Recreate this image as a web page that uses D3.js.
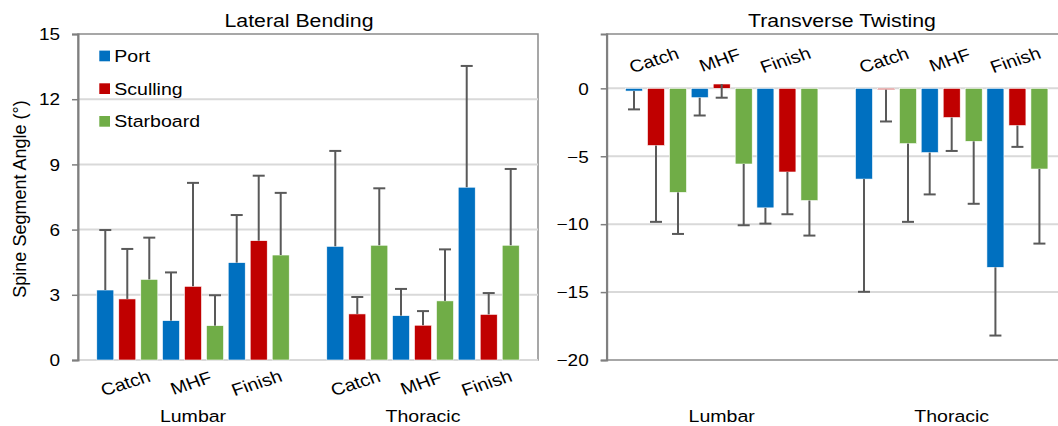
<!DOCTYPE html>
<html>
<head>
<meta charset="utf-8">
<script src="https://cdn.jsdelivr.net/npm/d3@7"></script>
<style>
  body { margin: 0; background: #fff; }
  text { font-family: "Liberation Sans", Arial, sans-serif; fill: #000; }
</style>
</head>
<body>
<svg id="chart" width="1058" height="426"></svg>
<script>
// Categories
const regions = ["Lumbar", "Thoracic"];
const phases = ["Catch", "MHF", "Finish"];
const series = ["Port", "Sculling", "Starboard"];
const colors = ["#0070C0", "#C00000", "#70AD47"];

// Lateral bending (deg): Lumbar Catch, MHF, Finish, Thoracic Catch, MHF, Finish
const bendPort = [3.22, 1.81, 4.48, 5.23, 2.04, 7.95];
const bendPortSd = [2.76, 2.22, 2.19, 4.39, 1.23, 5.58];
const bendScull = [2.81, 3.39, 5.49, 2.12, 1.6, 2.1];
const bendScullSd = [2.3, 4.76, 2.99, 0.78, 0.65, 0.98];
const bendStar = [3.71, 1.58, 4.83, 5.28, 2.72, 5.28];
const bendStarSd = [1.92, 1.4, 2.86, 2.62, 2.37, 3.51];

// Transverse twisting (deg)
const twistPort = [-0.2, -0.69, -8.8, -6.68, -4.73, -13.18];
const twistPortSd = [1.35, 1.31, 1.16, 8.3, 3.08, 5.02];
const twistScull = [-4.21, 0.32, -6.16, -0.1, -2.15, -2.74];
const twistScullSd = [5.62, 1.01, 3.11, 2.34, 2.46, 1.57];
const twistStar = [-7.66, -5.57, -8.26, -4.07, -3.9, -5.94];
const twistStarSd = [3.06, 4.51, 2.58, 5.76, 4.6, 5.49];

const bendTicks = [0, 3, 6, 9, 12, 15];
const twistTicks = [-20, -15, -10, -5, 0];

const SX = 1.15; // the reference is slightly stretched horizontally
const svg = d3.select("#chart");

function buildRows(means, sds) {
  const rows = [];
  regions.forEach((r, i) => {
    phases.forEach((p, j) => {
      series.forEach((s, k) => {
        const idx = i * 3 + j;
        rows.push({ region: r, phase: p, series: s, k, value: means[k][idx], sd: sds[k][idx] });
      });
    });
  });
  return rows;
}

function drawChart(cfg) {
  const data = buildRows(cfg.means, cfg.sds);
  const g = svg.append("g");

  const x0 = d3.scaleBand().domain(regions).range([cfg.left, cfg.right]);
  const x1 = d3.scaleBand().domain(phases).range([0, x0.bandwidth()]).paddingOuter(0.25).paddingInner(0);
  const x2 = d3.scaleBand().domain(series).range([0, x1.bandwidth()]).paddingInner(0.227).paddingOuter(0.107);
  const y = d3.scaleLinear().domain(cfg.domain).range([360, 34]);

  // plot border
  g.append("rect")
    .attr("x", cfg.left).attr("y", 34)
    .attr("width", cfg.right - cfg.left).attr("height", 326)
    .attr("fill", "none").attr("stroke", "#8a8a8a").attr("stroke-width", 1.5);

  // gridlines
  g.selectAll(".grid").data(cfg.grid).enter().append("line")
    .attr("x1", cfg.left).attr("x2", cfg.right)
    .attr("y1", (d) => y(d)).attr("y2", (d) => y(d))
    .attr("stroke", "#d9d9d9").attr("stroke-width", 2);

  // y axis
  const ax = g.append("g")
    .attr("transform", `translate(${cfg.left},0)`)
    .call(d3.axisLeft(y).tickValues(cfg.ticks).tickSize(6).tickFormat(d3.format("d")));
  ax.select(".domain").attr("stroke", "#7f7f7f").attr("stroke-width", 2);
  ax.selectAll(".tick line").attr("stroke", "#7f7f7f").attr("stroke-width", 1.5);
  ax.selectAll("text")
    .attr("x", 0).attr("dy", "0.35em")
    .attr("transform", `translate(-18,0) scale(${SX},1)`)
    .style("font-size", "16.5px").style("font-family", "Liberation Sans, Arial, sans-serif")
    .attr("fill", "#000");

  const bx = (d) => x0(d.region) + x1(d.phase) + x2(d.series);

  // bars
  g.selectAll(".bar").data(data).enter().append("rect")
    .attr("class", "bar")
    .attr("x", bx)
    .attr("width", x2.bandwidth())
    .attr("y", (d) => y(Math.max(0, d.value)))
    .attr("height", (d) => Math.abs(y(d.value) - y(0)))
    .attr("fill", (d) => colors[d.k])
    .attr("stroke", "#fff").attr("stroke-width", 0.6);

  // error bars (one direction only)
  const errEnd = (d) => y(d.value + cfg.errDir * d.sd);
  const cx = (d) => bx(d) + x2.bandwidth() / 2;
  g.selectAll(".err").data(data).enter().append("line")
    .attr("x1", cx).attr("x2", cx)
    .attr("y1", (d) => y(d.value)).attr("y2", errEnd)
    .attr("stroke", "#595959").attr("stroke-width", 2);
  g.selectAll(".cap").data(data).enter().append("line")
    .attr("x1", (d) => cx(d) - 6).attr("x2", (d) => cx(d) + 6)
    .attr("y1", errEnd).attr("y2", errEnd)
    .attr("stroke", "#595959").attr("stroke-width", 2);

  // phase labels (rotated)
  const phaseLabels = [];
  regions.forEach((r) => phases.forEach((p) => phaseLabels.push({ r, p })));
  g.selectAll(".plab").data(phaseLabels).enter().append("text")
    .attr("transform", (d) => `translate(${x0(d.r) + x1(d.p) + x1.bandwidth() / 2 - 2},${cfg.phaseY}) scale(${SX},1) rotate(-20)`)
    .attr("text-anchor", "middle").attr("dy", "0.35em")
    .style("font-size", "17px")
    .text((d) => d.p);

  // region labels
  g.selectAll(".rlab").data(regions).enter().append("text")
    .attr("transform", (d) => `translate(${x0(d) + x0.bandwidth() / 2},422) scale(${SX},1)`)
    .attr("text-anchor", "middle")
    .style("font-size", "17px")
    .text((d) => d);

  // title
  g.append("text")
    .attr("transform", `translate(${cfg.titleX},27) scale(${SX},1)`)
    .attr("text-anchor", "middle")
    .style("font-size", "18.5px")
    .text(cfg.title);

  return g;
}

drawChart({
  left: 78, right: 538, domain: [0, 15], ticks: bendTicks, grid: [3, 6, 9, 12, 0],
  means: [bendPort, bendScull, bendStar], sds: [bendPortSd, bendScullSd, bendStarSd],
  errDir: 1, phaseY: 383, title: "Lateral Bending", titleX: 299
});

drawChart({
  left: 606.7, right: 1066.7, domain: [-20, 4], ticks: twistTicks, grid: [-15, -10, -5, 0],
  means: [twistPort, twistScull, twistStar], sds: [twistPortSd, twistScullSd, twistStarSd],
  errDir: -1, phaseY: 60, title: "Transverse Twisting", titleX: 842
});

// y axis title (left chart)
svg.append("text")
  .attr("transform", "translate(20,199) rotate(-90)")
  .attr("text-anchor", "middle").attr("dy", "0.35em")
  .style("font-size", "18px")
  .text("Spine Segment Angle (°)");

// legend
const legend = svg.append("g");
series.forEach((s, i) => {
  const cy = 56 + i * 32.7;
  legend.append("rect")
    .attr("x", 99.3).attr("y", cy - 5.4).attr("width", 10.7).attr("height", 10.7)
    .attr("fill", colors[i]);
  legend.append("text")
    .attr("transform", `translate(114.3,${cy + 6}) scale(${SX},1)`)
    .style("font-size", "17px")
    .text(s);
});
</script>
</body>
</html>
